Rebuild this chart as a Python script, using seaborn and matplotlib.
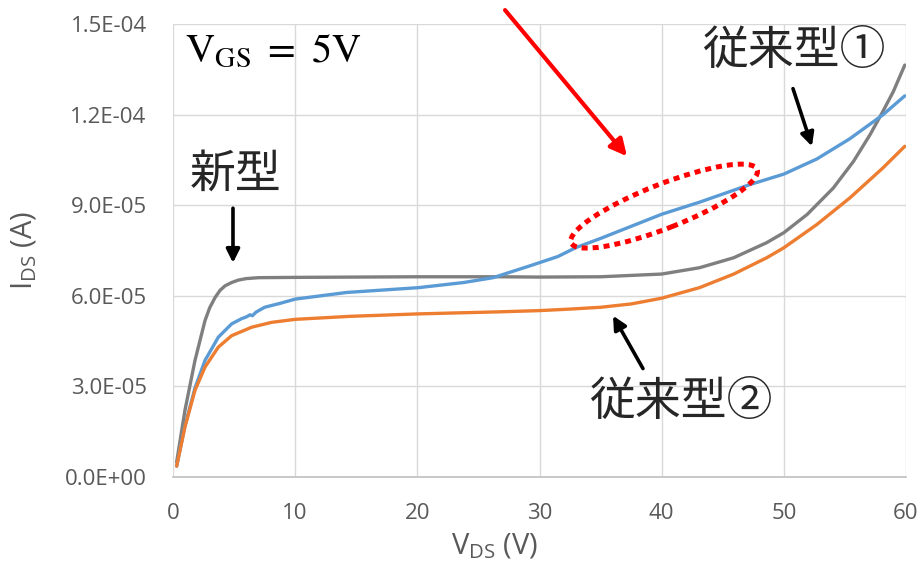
import matplotlib
matplotlib.use("Agg")
import matplotlib.pyplot as plt
import matplotlib.transforms as mtransforms
from matplotlib.patches import Ellipse
import numpy as np
import pandas as pd
import seaborn as sns

# Drain-current curves at V_GS = 5 V (current in units of 1e-5 A)
new_vds = [0.3, 0.98, 1.8, 2.62, 3.0, 3.44, 3.85, 4.26, 4.8, 5.35, 6.0, 7.0, 10, 15, 20, 26.8,
           30, 35, 40, 43.1, 45.9, 48.6, 50, 51.9, 54.05, 55.7, 57.05, 58.1, 58.96, 59.9]
new_ids = [0.5, 2.21, 3.86, 5.18, 5.6, 5.94, 6.18, 6.33, 6.44, 6.52, 6.57, 6.6, 6.61, 6.62, 6.63,
           6.63, 6.62, 6.63, 6.72, 6.93, 7.26, 7.76, 8.09, 8.69, 9.57, 10.45, 11.33, 12.1,
           12.76, 13.64]

conv1_vds = [0.3, 0.98, 1.8, 2.62, 3.71, 4.8, 5.6, 6.0, 6.3, 6.5, 6.8, 7.5, 8.76, 10,
             14.2, 20.1, 23.8, 26.2, 29.2, 31.5, 33, 35, 37.5, 40, 43.1, 47.2, 50, 52.7,
             55.4, 58.1, 59.9]
conv1_ids = [0.36, 1.7, 2.95, 3.86, 4.63, 5.07, 5.24, 5.3, 5.37, 5.34, 5.46, 5.62, 5.75, 5.89,
             6.11, 6.27, 6.44, 6.6, 6.99, 7.3, 7.6, 7.9, 8.3, 8.7, 9.1, 9.68, 10.03, 10.53,
             11.2, 11.99, 12.62]

conv2_vds = [0.3, 0.98, 1.8, 2.62, 3.71, 4.8, 6.44, 8.07, 10, 14.5, 20, 26.8, 30, 32.5, 35,
             37.5, 40, 43.1, 45.9, 48.6, 50, 52.7, 55.4, 58.1, 59.9]
conv2_ids = [0.36, 1.66, 2.87, 3.64, 4.3, 4.68, 4.96, 5.12, 5.22, 5.32, 5.4, 5.47, 5.51, 5.56, 5.62,
             5.73, 5.92, 6.27, 6.72, 7.26, 7.59, 8.36, 9.24, 10.23, 10.95]

series_names = ["新型", "従来型①", "従来型②"]
series_colors = ["#7F7F7F", "#5B9BD5", "#ED7D31"]

x_ticks = [0, 10, 20, 30, 40, 50, 60]
y_ticks = [0.0, 3.0e-5, 6.0e-5, 9.0e-5, 1.2e-4, 1.5e-4]
y_tick_labels = ["0.0E+00", "3.0E-05", "6.0E-05", "9.0E-05", "1.2E-04", "1.5E-04"]

frames = []
for name, xs, ys in zip(series_names,
                        [new_vds, conv1_vds, conv2_vds],
                        [new_ids, conv1_ids, conv2_ids]):
    frames.append(pd.DataFrame({"vds": xs, "ids": np.array(ys) * 1e-5, "device": name}))
df = pd.concat(frames, ignore_index=True)

sns.set_style("white")
plt.rcParams["font.family"] = ["Open Sans", "Noto Sans CJK JP", "DejaVu Sans"]
plt.rcParams["mathtext.fontset"] = "stix"

fig = plt.figure(figsize=(9.23, 5.73), dpi=100)
ax = fig.add_axes([173 / 923, 1 - 477 / 573, 733 / 923, 453 / 573])

sns.lineplot(data=df, x="vds", y="ids", hue="device", hue_order=series_names,
             palette=series_colors, sort=False, estimator=None, legend=False,
             linewidth=2.4, ax=ax, zorder=3)

ax.set_xlim(0, 60)
ax.set_ylim(0, 1.5e-4)
ax.set_xticks(x_ticks)
ax.set_yticks(y_ticks)
ax.set_yticklabels(y_tick_labels)
ax.grid(True, color="#D9D9D9", linewidth=1.0)
ax.set_axisbelow(True)
for side in ["left", "top", "right"]:
    ax.spines[side].set_visible(False)
ax.spines["bottom"].set_color("#BFBFBF")
ax.spines["bottom"].set_linewidth(1.2)
ax.tick_params(axis="both", length=0, labelsize=16, labelcolor="#595959")
ax.tick_params(axis="x", pad=19)
ax.tick_params(axis="y", pad=19)

ax.set_xlabel(r"$\mathregular{V_{DS}}$ (V)", fontsize=21, color="#595959")
ax.set_ylabel(r"$\mathregular{I_{DS}}$ (A)", fontsize=21, color="#595959")
ax.xaxis.set_label_coords((495 - 173) / 733, -0.12)
ax.yaxis.set_label_coords(-0.182, 0.5)

# Gate-voltage condition
ax.text(0.98, 13.75e-5, r"$\mathrm{V}_{\mathrm{GS}}\ =\ 5\mathrm{V}$", fontsize=29,
        color="black", ha="left", va="baseline")

# Curve labels
cjk = ["Noto Sans CJK JP", "DejaVu Sans"]
ax.text(5.16, 10.02e-5, "新型", fontsize=33, family=cjk, ha="center", va="center")
ax.text(50.8, 14.11e-5, "従来型①", fontsize=33, family=cjk, ha="center", va="center")
ax.text(41.6, 2.49e-5, "従来型②", fontsize=33, family=cjk, ha="center", va="center")

arrow_kw = dict(arrowstyle="-|>,head_length=0.8,head_width=0.4", color="black", lw=2.6,
                shrinkA=0, shrinkB=0)
ax.annotate("", xy=(4.91, 7.09e-5), xytext=(4.91, 8.9e-5), arrowprops=arrow_kw)
ax.annotate("", xy=(52.3, 10.95e-5), xytext=(50.75, 12.86e-5), arrowprops=arrow_kw)
ax.annotate("", xy=(36.02, 5.34e-5), xytext=(38.47, 3.59e-5), arrowprops=arrow_kw)

# Highlight of the hump on 従来型①
red_kw = dict(arrowstyle="-|>,head_length=1.0,head_width=0.5", color="#FF0000", lw=3.0,
              shrinkA=0, shrinkB=0)
ax.annotate("", xy=(37.16, 10.62e-5), xytext=(27.18, 15.46e-5), arrowprops=red_kw,
            annotation_clip=False)

ell_trans = fig.dpi_scale_trans + mtransforms.ScaledTranslation(40.2, 8.97e-5, ax.transData)
ell = Ellipse((0, 0), width=2.0, height=0.44, angle=21.5, transform=ell_trans,
              fill=False, edgecolor="#FF0000", linewidth=3.6, linestyle=(0, (1.2, 1.0)),
              zorder=5, clip_on=False)
ax.add_patch(ell)

fig.savefig("out.png", dpi=100)
